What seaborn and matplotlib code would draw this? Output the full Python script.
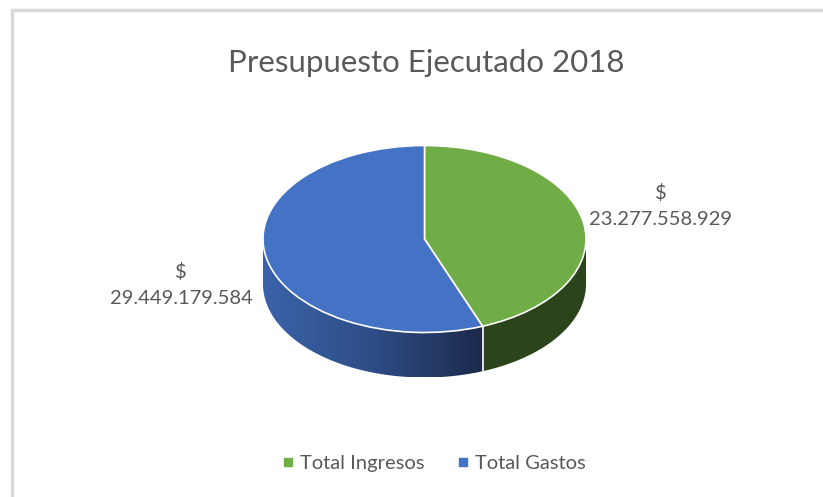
import numpy as np
import matplotlib
matplotlib.use("Agg")
import matplotlib.pyplot as plt
from matplotlib.patches import Polygon
from matplotlib.colors import LinearSegmentedColormap
from matplotlib.lines import Line2D
import seaborn as sns

# data
categories = ["Total Ingresos", "Total Gastos"]
values = [23277558929, 29449179584]
value_labels = ["$\n23.277.558.929", "$\n29.449.179.584"]
colors = ["#70AD47", "#4472C4"]
title = "Presupuesto Ejecutado 2018"

sns.set_theme(style="white")
plt.rcParams["font.family"] = ["Lato", "DejaVu Sans"]

W, H = 823, 497
fig = plt.figure(figsize=(W / 100, H / 100), dpi=100)
ax = fig.add_axes([0, 0, 1, 1])

# pixel geometry of the 3D pie (ellipse centre, half axes, depth)
cx, cy, a, b = 424.5, 239, 161.5, 93.5
depth = 45 / b

# top face: plain pie squashed into an ellipse by the axis limits
ax.pie(values, colors=colors, startangle=90, counterclock=False,
       wedgeprops=dict(edgecolor="white", linewidth=1.2), radius=1)
ax.set_aspect("auto")
ax.axis("off")

# side walls
frac = values[0] / sum(values)
boundary = 90 - 360 * frac  # degrees, where green meets blue
bnd = np.deg2rad(boundary % 360)


def wall(t0, t1):
    t = np.linspace(t0, t1, 200)
    top = np.column_stack([np.cos(t), np.sin(t)])
    bot = np.column_stack([np.cos(t), np.sin(t) - depth])[::-1]
    return np.vstack([top, bot])


# blue side with left-to-right gradient
blue_poly = Polygon(wall(np.pi, bnd), closed=True, facecolor="none",
                    edgecolor="none", zorder=0)
ax.add_patch(blue_poly)
cmap = LinearSegmentedColormap.from_list("side", ["#3b63a9", "#2e4d86", "#1c2a4c"])
grad = np.linspace(0, 1, 256).reshape(1, -1)
im = ax.imshow(grad, cmap=cmap, aspect="auto", zorder=0,
               extent=[-1, np.cos(bnd), -1 - depth, 0], interpolation="bicubic")
im.set_clip_path(blue_poly)

# green side
green_poly = Polygon(wall(bnd, 2 * np.pi), closed=True, facecolor="#2c441c",
                     edgecolor="none", zorder=0)
ax.add_patch(green_poly)

# seam between the two sides
ax.plot([np.cos(bnd), np.cos(bnd)], [np.sin(bnd), np.sin(bnd) - depth],
        color="white", lw=1.2, zorder=1)
ax.set_xlim(-cx / a, (W - cx) / a)
ax.set_ylim((cy - H) / b, cy / b)

txt = "#595959"
fig.text(426 / W, 1 - 63 / H, title, ha="center", va="center",
         fontsize=22.5, color=txt)

# data labels
fig.text(661 / W, 1 - 206 / H, value_labels[0], ha="center", va="center",
         fontsize=14.5, color=txt, linespacing=1.7)
fig.text(181 / W, 1 - 285 / H, value_labels[1], ha="center", va="center",
         fontsize=14.5, color=txt, linespacing=1.6)

# legend
handles = [Line2D([], [], marker="s", linestyle="none", markersize=6,
                  markerfacecolor=c, markeredgecolor=c) for c in colors]
fig.legend(handles, categories, loc="center", bbox_to_anchor=(432 / W, 1 - 463 / H),
           ncol=2, frameon=False, fontsize=14.5, labelcolor=txt,
           handletextpad=0.1, columnspacing=1.4, handlelength=1.0)

# chart border (left and top edges visible)
fig.add_artist(Line2D([12 / W, 12 / W], [0, 1 - 10 / H], color="#d9d9d9", lw=2.5))
fig.add_artist(Line2D([12 / W, 1], [1 - 10 / H, 1 - 10 / H], color="#d9d9d9", lw=2.5))

fig.savefig("out.png", dpi=100, facecolor="white")
